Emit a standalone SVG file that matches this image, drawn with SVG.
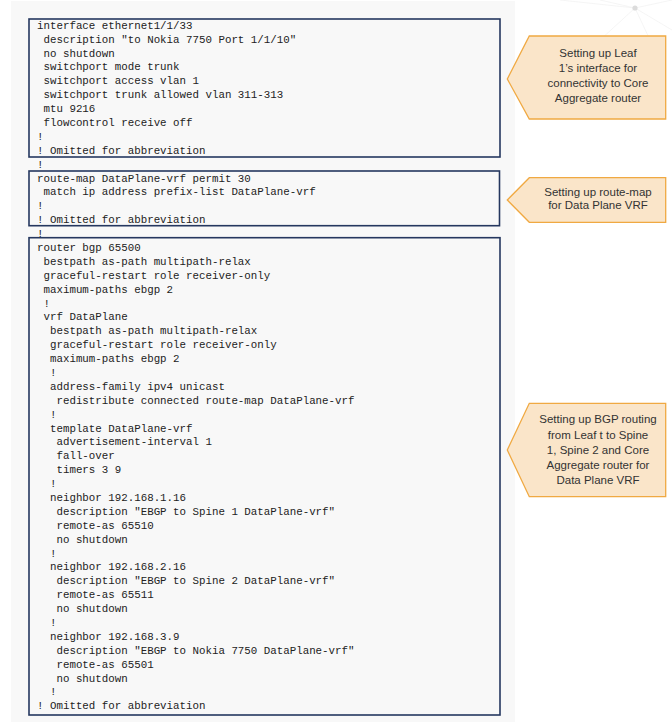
<svg xmlns="http://www.w3.org/2000/svg" width="672" height="722" viewBox="0 0 672 722">
<style>
.code{font-family:"Liberation Mono","DejaVu Sans Mono",monospace;font-size:10.8px;fill:#222;white-space:pre}
.box{fill:#f8f8f8;stroke:#25375f;stroke-width:1.6}
.call{fill:#fae5c9;stroke:#f0a942;stroke-width:1.3}
.ct{font-family:"Liberation Sans",Arial,sans-serif;font-size:11.5px;fill:#333;text-anchor:middle}
.wm{stroke:#f1f1f1;stroke-width:0.7;fill:none}
</style>
<rect x="0" y="0" width="672" height="722" fill="#ffffff"/>
<g id="watermark">
<path class="wm" d="M560 0 L635 8 L672 0 M635 8 L600 40 M635 8 L672 30 M600 0 L635 8 M635 8 L650 40"/>
<circle cx="635" cy="8" r="2.6" fill="#dcdcdc"/>
</g>
<rect id="panel" x="11" y="1" width="504" height="721" fill="#f8f8f8"/>
<g id="box-interface">
<rect class="box" x="29" y="19" width="471" height="138"/>
</g>
<g id="box-routemap">
<rect class="box" x="29" y="171" width="470.5" height="54.7"/>
</g>
<g id="box-bgp">
<rect class="box" x="29" y="237.7" width="471" height="477.3"/>
</g>
<g id="code" xml:space="preserve">
<text class="code" x="37" y="28.7">interface ethernet1/1/33</text>
<text class="code" x="37" y="42.6"> description "to Nokia 7750 Port 1/1/10"</text>
<text class="code" x="37" y="56.5"> no shutdown</text>
<text class="code" x="37" y="70.4"> switchport mode trunk</text>
<text class="code" x="37" y="84.3"> switchport access vlan 1</text>
<text class="code" x="37" y="98.2"> switchport trunk allowed vlan 311-313</text>
<text class="code" x="37" y="112.0"> mtu 9216</text>
<text class="code" x="37" y="125.9"> flowcontrol receive off</text>
<text class="code" x="37" y="139.8">!</text>
<text class="code" x="37" y="153.7">! Omitted for abbreviation</text>
<text class="code" x="37" y="167.6">!</text>
<text class="code" x="37" y="181.5">route-map DataPlane-vrf permit 30</text>
<text class="code" x="37" y="195.4"> match ip address prefix-list DataPlane-vrf</text>
<text class="code" x="37" y="209.3">!</text>
<text class="code" x="37" y="223.2">! Omitted for abbreviation</text>
<text class="code" x="37" y="237.1">!</text>
<text class="code" x="37" y="250.9">router bgp 65500</text>
<text class="code" x="37" y="264.8"> bestpath as-path multipath-relax</text>
<text class="code" x="37" y="278.7"> graceful-restart role receiver-only</text>
<text class="code" x="37" y="292.6"> maximum-paths ebgp 2</text>
<text class="code" x="37" y="306.5"> !</text>
<text class="code" x="37" y="320.4"> vrf DataPlane</text>
<text class="code" x="37" y="334.3">  bestpath as-path multipath-relax</text>
<text class="code" x="37" y="348.2">  graceful-restart role receiver-only</text>
<text class="code" x="37" y="362.1">  maximum-paths ebgp 2</text>
<text class="code" x="37" y="376.0">  !</text>
<text class="code" x="37" y="389.8">  address-family ipv4 unicast</text>
<text class="code" x="37" y="403.7">   redistribute connected route-map DataPlane-vrf</text>
<text class="code" x="37" y="417.6">  !</text>
<text class="code" x="37" y="431.5">  template DataPlane-vrf</text>
<text class="code" x="37" y="445.4">   advertisement-interval 1</text>
<text class="code" x="37" y="459.3">   fall-over</text>
<text class="code" x="37" y="473.2">   timers 3 9</text>
<text class="code" x="37" y="487.1">  !</text>
<text class="code" x="37" y="501.0">  neighbor 192.168.1.16</text>
<text class="code" x="37" y="514.9">   description "EBGP to Spine 1 DataPlane-vrf"</text>
<text class="code" x="37" y="528.7">   remote-as 65510</text>
<text class="code" x="37" y="542.6">   no shutdown</text>
<text class="code" x="37" y="556.5">  !</text>
<text class="code" x="37" y="570.4">  neighbor 192.168.2.16</text>
<text class="code" x="37" y="584.3">   description "EBGP to Spine 2 DataPlane-vrf"</text>
<text class="code" x="37" y="598.2">   remote-as 65511</text>
<text class="code" x="37" y="612.1">   no shutdown</text>
<text class="code" x="37" y="626.0">  !</text>
<text class="code" x="37" y="639.9">  neighbor 192.168.3.9</text>
<text class="code" x="37" y="653.8">   description "EBGP to Nokia 7750 DataPlane-vrf"</text>
<text class="code" x="37" y="667.6">   remote-as 65501</text>
<text class="code" x="37" y="681.5">   no shutdown</text>
<text class="code" x="37" y="695.4">  !</text>
<text class="code" x="37" y="709.3">! Omitted for abbreviation</text>
</g>
<g id="callout-interface">
<polygon class="call" points="507.3,79 529.3,36 665.7,36 665.7,119 529.3,119"/>
<text class="ct" x="598" y="56.5">Setting up Leaf</text>
<text class="ct" x="598" y="71.7">1’s interface for</text>
<text class="ct" x="598" y="86.9">connectivity to Core</text>
<text class="ct" x="598" y="102.1">Aggregate router</text>
</g>
<g id="callout-routemap">
<polygon class="call" points="507.3,200 529.3,177.7 665.7,177.7 665.7,222.3 529.3,222.3"/>
<text class="ct" x="598" y="195.7">Setting up route-map</text>
<text class="ct" x="598" y="209.0">for Data Plane VRF</text>
</g>
<g id="callout-bgp">
<polygon class="call" points="507.3,450 529.3,403.3 665.7,403.3 665.7,496.7 529.3,496.7"/>
<text class="ct" x="598" y="423.3">Setting up BGP routing</text>
<text class="ct" x="598" y="438.5">from Leaf t to Spine</text>
<text class="ct" x="598" y="453.7">1, Spine 2 and Core</text>
<text class="ct" x="598" y="468.9">Aggregate router for</text>
<text class="ct" x="598" y="484.1">Data Plane VRF</text>
</g>
<g id="connectors"></g>
</svg>
